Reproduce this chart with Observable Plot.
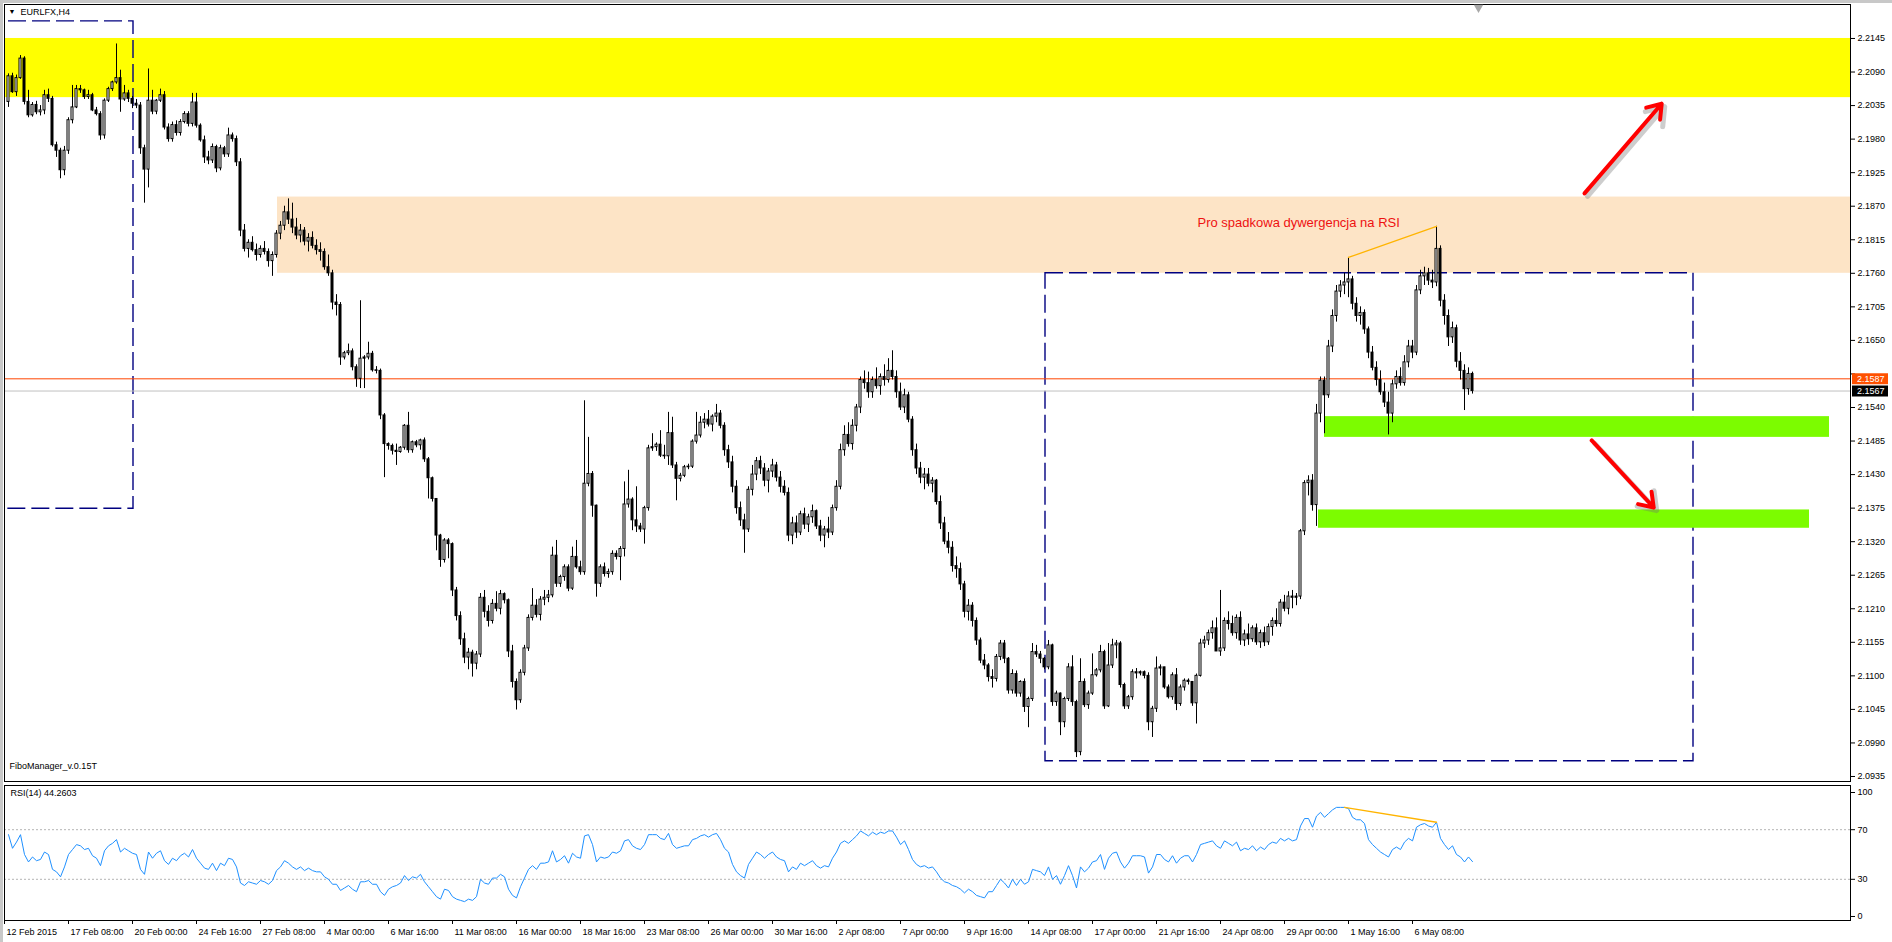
<!DOCTYPE html>
<html><head><meta charset="utf-8">
<script src="https://cdn.jsdelivr.net/npm/d3@7"></script>
<script src="https://cdn.jsdelivr.net/npm/@observablehq/plot@0.6"></script>
<style>
html,body{margin:0;padding:0;background:#fff;}
#wrap{position:relative;width:1892px;height:942px;overflow:hidden;background:#fff;}
#main{position:absolute;left:0;top:0;}
#rsi{position:absolute;left:0;top:782px;}
#topbar{position:absolute;left:0;top:0;width:1892px;height:3px;background:#c8c8c8;}
#leftbar{position:absolute;left:0;top:0;width:3px;height:942px;background:#c8c8c8;}
</style></head><body>
<div id="wrap"><div id="main"></div><div id="rsi"></div><div id="topbar"></div><div id="leftbar"></div></div>
<script>
// ---------- DATA (prices in pips above 2.0000) ----------
const BASE = 2.0, PIP = 0.0001;
const firstOpen = 2041;
const closePips = [
2083,2057,2080,2112,2041,2019,2036,2024,2027,2052,
2046,1970,1961,1929,1961,2011,2032,2062,2060,2049,
2052,2027,2021,1986,2043,2062,2073,2080,2045,2055,
2046,2038,2035,1965,1930,2043,2025,2043,2052,1999,
1980,2003,1990,2008,2021,2005,2040,2002,1978,1950,
1945,1967,1932,1965,1955,1986,1980,1942,1830,1800,
1810,1798,1790,1800,1795,1780,1790,1825,1838,1860,
1848,1835,1822,1830,1812,1818,1805,1798,1795,1770,
1760,1712,1708,1622,1629,1632,1606,1587,1620,1622,
1628,1601,1600,1527,1480,1477,1469,1467,1474,1510,
1470,1483,1478,1486,1455,1424,1390,1330,1290,1322,
1316,1240,1198,1160,1130,1138,1120,1135,1228,1205,
1190,1218,1210,1234,1224,1140,1090,1060,1105,1145,
1195,1215,1200,1225,1228,1232,1297,1251,1262,1278,
1243,1295,1278,1270,1415,1431,1379,1251,1278,1267,
1270,1300,1295,1308,1381,1389,1355,1345,1340,1375,
1473,1475,1479,1461,1460,1498,1445,1423,1428,1442,
1443,1484,1494,1515,1520,1512,1525,1530,1510,1470,
1450,1410,1375,1355,1340,1405,1430,1452,1440,1420,
1435,1445,1425,1410,1400,1330,1350,1335,1365,1348,
1360,1370,1345,1330,1340,1335,1375,1410,1470,1495,
1480,1510,1540,1585,1580,1565,1585,1575,1590,1585,
1600,1590,1565,1540,1560,1520,1470,1440,1425,1430,
1415,1420,1385,1350,1320,1310,1280,1275,1250,1205,
1215,1190,1158,1125,1117,1098,1095,1131,1153,1128,
1076,1103,1071,1090,1049,1062,1139,1135,1128,1114,
1150,1057,1071,1024,1062,1114,1057,975,1090,1052,
1071,1101,1109,1139,1050,1117,1150,1153,1085,1050,
1065,1106,1104,1106,1100,1024,1046,1112,1114,1081,
1065,1101,1054,1081,1092,1090,1055,1100,1153,1158,
1170,1178,1140,1145,1190,1185,1170,1195,1158,1168,
1160,1178,1155,1170,1155,1180,1190,1185,1220,1210,
1230,1228,1230,1337,1416,1420,1380,1530,1584,1560,
1640,1690,1730,1740,1745,1750,1710,1690,1695,1668,
1630,1605,1585,1565,1548,1530,1578,1590,1580,1614,
1640,1630,1732,1755,1760,1748,1745,1800,1715,1690,
1655,1670,1615,1600,1570,1595,1567
];
const highPips = [
2087,2088,2085,2117,2115,2060,2040,2042,2035,2060,
2062,2050,1975,1965,1968,2015,2068,2068,2068,2062,
2060,2055,2032,2025,2046,2065,2075,2136,2093,2068,
2060,2050,2045,2040,1970,2095,2060,2045,2062,2058,
2005,2008,2010,2012,2025,2025,2055,2055,2005,1985,
1960,1972,1970,1970,1968,1998,1990,1985,1948,1840,
1815,1820,1808,1805,1812,1800,1795,1830,1845,1870,
1882,1875,1850,1840,1835,1825,1828,1815,1810,1800,
1790,1765,1725,1712,1632,1644,1636,1610,1715,1625,
1647,1632,1607,1603,1530,1482,1480,1480,1476,1512,
1532,1485,1486,1488,1490,1458,1426,1390,1332,1325,
1325,1318,1245,1205,1170,1145,1142,1140,1235,1240,
1215,1225,1238,1240,1236,1226,1150,1095,1110,1150,
1200,1243,1225,1230,1240,1240,1311,1322,1265,1282,
1282,1311,1322,1288,1551,1491,1435,1380,1282,1285,
1275,1305,1305,1312,1418,1437,1392,1410,1350,1378,
1478,1497,1482,1502,1478,1532,1524,1450,1432,1445,
1447,1487,1532,1525,1530,1535,1528,1545,1535,1515,
1478,1460,1420,1385,1365,1410,1445,1458,1460,1448,
1440,1455,1450,1435,1420,1408,1360,1362,1370,1375,
1365,1380,1372,1355,1345,1360,1380,1420,1480,1510,
1515,1520,1545,1590,1600,1598,1590,1605,1595,1610,
1620,1633,1600,1580,1570,1565,1525,1480,1450,1440,
1440,1425,1422,1395,1360,1335,1320,1295,1285,1255,
1225,1220,1195,1162,1135,1120,1110,1135,1158,1158,
1130,1110,1108,1092,1095,1065,1153,1150,1140,1130,
1158,1152,1075,1072,1065,1120,1133,1060,1128,1095,
1075,1136,1112,1150,1142,1153,1160,1158,1156,1088,
1068,1110,1112,1108,1108,1105,1050,1131,1118,1112,
1085,1105,1112,1085,1095,1095,1085,1103,1160,1165,
1175,1190,1195,1240,1195,1205,1198,1200,1205,1175,
1185,1182,1185,1175,1180,1185,1195,1210,1225,1232,
1238,1240,1235,1340,1420,1428,1430,1545,1590,1590,
1650,1700,1740,1748,1760,1786,1755,1720,1705,1700,
1672,1640,1615,1600,1580,1565,1585,1600,1605,1625,
1650,1650,1740,1765,1770,1768,1765,1837,1805,1725,
1700,1680,1675,1630,1610,1605,1598
];
const lowPips = [
2032,2055,2050,2078,2036,2015,2016,2020,2018,2020,
2040,1967,1950,1915,1920,1955,2005,2030,2055,2045,
2045,2025,2018,1978,1980,2040,2058,2070,2024,2042,
2040,2030,2030,1955,1875,1900,2020,2020,2040,1995,
1975,1975,1985,1985,2005,2000,2000,1998,1975,1940,
1938,1940,1925,1928,1950,1950,1975,1935,1820,1795,
1785,1795,1780,1785,1790,1770,1755,1785,1815,1830,
1840,1825,1815,1810,1805,1795,1800,1790,1780,1765,
1755,1700,1690,1609,1618,1625,1600,1573,1571,1571,
1618,1598,1595,1520,1425,1470,1462,1445,1465,1470,
1465,1465,1474,1470,1450,1390,1385,1305,1278,1285,
1292,1230,1190,1150,1120,1110,1098,1110,1130,1195,
1180,1185,1205,1200,1218,1130,1080,1044,1055,1100,
1140,1190,1195,1190,1215,1220,1228,1245,1245,1255,
1238,1240,1275,1265,1265,1410,1360,1229,1245,1262,
1260,1265,1290,1256,1295,1375,1338,1335,1335,1316,
1370,1468,1468,1458,1455,1445,1440,1387,1418,1425,
1438,1440,1480,1490,1505,1508,1500,1515,1505,1460,
1440,1400,1365,1345,1301,1335,1395,1420,1430,1410,
1400,1425,1418,1400,1395,1320,1315,1325,1330,1340,
1335,1350,1340,1320,1310,1325,1330,1370,1405,1460,
1475,1470,1500,1530,1570,1555,1555,1570,1560,1575,
1580,1585,1555,1535,1530,1515,1460,1430,1415,1405,
1410,1400,1380,1340,1315,1300,1270,1260,1240,1195,
1190,1180,1150,1120,1110,1090,1080,1090,1125,1120,
1070,1070,1065,1065,1040,1015,1058,1130,1120,1110,
1110,1050,1050,1002,1015,1058,1050,966,969,1048,
1045,1068,1098,1105,1045,1048,1112,1128,1080,1045,
1045,1060,1095,1100,1095,1010,999,1040,1100,1078,
1062,1060,1043,1050,1075,1085,1050,1021,1098,1145,
1150,1160,1140,1132,1140,1175,1165,1160,1150,1148,
1150,1155,1150,1145,1148,1150,1165,1180,1180,1205,
1200,1210,1215,1225,1330,1395,1370,1345,1515,1497,
1555,1630,1680,1720,1725,1720,1700,1680,1675,1660,
1620,1600,1575,1560,1540,1495,1515,1570,1575,1575,
1605,1620,1625,1725,1740,1740,1735,1738,1705,1675,
1640,1645,1605,1585,1535,1560,1562
];
const rsiValues = [
66,55,60,66,50,44,48,45,46,52,
50,38,36,32,40,50,54,58,57,54,
55,49,47,41,53,57,59,62,52,55,
53,51,50,38,34,52,47,51,53,45,
42,47,45,49,51,48,54,47,43,39,
38,43,37,43,41,47,46,40,27,25,
28,27,26,29,28,26,29,37,40,45,
43,40,38,40,37,39,37,36,36,32,
30,26,26,21,23,25,22,20,28,28,
29,26,26,20,17,22,24,25,27,33,
29,32,31,34,28,24,20,16,14,22,
21,16,14,13,12,14,13,16,30,27,
26,31,31,34,32,22,17,15,24,31,
38,41,38,43,43,44,53,44,46,49,
43,51,48,47,65,66,58,44,48,47,
48,52,51,53,61,62,57,55,54,58,
66,66,66,63,62,67,58,55,56,57,
57,62,63,65,66,64,66,67,62,55,
52,42,36,33,31,42,47,52,50,47,
50,52,48,46,45,36,40,38,43,41,
43,45,41,39,41,40,47,52,59,61,
59,62,65,69,67,65,68,66,68,67,
69,69,64,58,61,54,46,42,40,41,
39,40,36,31,28,27,25,24,22,19,
22,20,17,16,15,20,20,25,30,27,
23,30,25,30,26,28,38,37,36,33,
40,30,33,26,33,41,33,23,40,36,
39,44,45,50,38,47,51,52,44,39,
43,49,49,49,48,35,40,50,50,46,
44,49,43,47,49,49,44,50,58,59,
60,61,57,55,61,59,57,60,53,55,
54,57,53,56,54,58,60,59,63,61,
63,61,62,73,79,79,72,81,84,80,
83,86,88,88,88,87,80,78,78,75,
62,58,55,52,50,48,54,56,54,60,
63,61,72,74,75,73,72,76,63,58,
54,57,50,48,44,48,44.26
];
const priceTicks = [2.0935,2.0990,2.1045,2.1100,2.1155,2.1210,2.1265,2.1320,2.1375,2.1430,2.1485,2.1540,2.1595,2.1650,2.1705,2.1760,2.1815,2.1870,2.1925,2.1980,2.2035,2.2090,2.2145];
const hiddenPriceLabel = 2.1595; // covered by the current-price boxes in the reference
const rsiTicks = [0, 30, 70, 100];
const rsiLevels = [30, 70];
const timeTickBars = [-1,15,31,47,63,79,95,111,127,143,159,175,191,207,223,239,255,271,287,303,319,335,351];
const timeLabels = ["12 Feb 2015","17 Feb 08:00","20 Feb 00:00","24 Feb 16:00","27 Feb 08:00","4 Mar 00:00","6 Mar 16:00","11 Mar 08:00","16 Mar 00:00","18 Mar 16:00","23 Mar 08:00","26 Mar 00:00","30 Mar 16:00","2 Apr 08:00","7 Apr 00:00","9 Apr 16:00","14 Apr 08:00","17 Apr 00:00","21 Apr 16:00","24 Apr 08:00","29 Apr 00:00","1 May 16:00","6 May 08:00"];
const askPrice = 2.1587, bidPrice = 2.1567;
const zoneYellow = [{x1: -1, x2: 460.5, y1: 2.2048, y2: 2.2145}];
const zonePeach = [{x1: 67.25, x2: 460.5, y1: 2.1760, y2: 2.1885}];
const zoneGreen = [{x1: 329, x2: 455.25, y1: 2.1491, y2: 2.1525}, {x1: 327.5, x2: 450.25, y1: 2.1342, y2: 2.1372}];
const dashBoxes = [{x1: -6, x2: 31.25, y1: 2.1374, y2: 2.2173}, {x1: 259.25, x2: 421.25, y1: 2.0960, y2: 2.1760}];
const divergencePrice = [{x: 335, y: 2.1786}, {x: 357, y: 2.1837}];
const divergenceRsi = [{x: 334, y: 88}, {x: 357, y: 76}];
const arrows = [{x1: 394, y1: 2.1891, x2: 413.3, y2: 2.2038}, {x1: 395.8, y1: 2.1486, x2: 411.3, y2: 2.1376}];
const note = [{x: 297.25, y: 2.1843, text: "Pro spadkowa dywergencja na RSI"}];
const shiftMarker = [367.5];

// ---------- BUILD ----------
const X_MIN = -1, X_MAX = 460.5;
const Y_MIN = 2.09268, Y_MAX = 2.22007;
const bars = closePips.map((c, i) => {
  const o = i ? closePips[i - 1] : firstOpen;
  return {i, open: BASE + o * PIP, close: BASE + c * PIP,
    high: BASE + Math.max(highPips[i], o, c) * PIP,
    low: BASE + Math.min(lowPips[i], o, c) * PIP};
});
const bull = bars.filter(d => d.close >= d.open);
const bear = bars.filter(d => d.close < d.open);
const bullInner = bull.filter(d => (d.close - d.open) * 6099 > 1.6);
const font = {fontFamily: "'Liberation Sans', Arial, sans-serif", fontSize: "9px", color: "#000", background: "transparent", overflow: "visible"};

const main = Plot.plot({
  width: 1892, height: 782,
  marginLeft: 4, marginRight: 42, marginTop: 4, marginBottom: 1,
  style: font,
  x: {domain: [X_MIN, X_MAX], axis: null},
  y: {domain: [Y_MIN, Y_MAX]},
  marks: [
    Plot.rect(zoneYellow, {x1: "x1", x2: "x2", y1: "y1", y2: "y2", fill: "#ffff00"}),
    Plot.rect(zonePeach, {x1: "x1", x2: "x2", y1: "y1", y2: "y2", fill: "#fde4c6"}),
    Plot.rect(dashBoxes, {x1: "x1", x2: "x2", y1: "y1", y2: "y2", fill: "none", stroke: "#000080", strokeWidth: 1.4, strokeDasharray: "18,6", clip: true}),
    Plot.rect(zoneGreen, {x1: "x1", x2: "x2", y1: "y1", y2: "y2", fill: "#7cfc00"}),
    Plot.ruleY([bidPrice], {stroke: "#c0c0c0"}),
    Plot.ruleY([askPrice], {stroke: "#ff4500"}),
    Plot.ruleX(bars, {x: "i", y1: "low", y2: "high", stroke: "#000", strokeWidth: 1}),
    Plot.rect(bear, {x1: d => d.i - 0.25, x2: d => d.i + 0.5, y1: "open", y2: "close", fill: "#000", insetTop: -0.5, insetBottom: -0.5, dx: -0.5}),
    Plot.rect(bull, {x1: d => d.i - 0.25, x2: d => d.i + 0.5, y1: "open", y2: "close", fill: "#000", insetTop: -0.5, insetBottom: -0.5, dx: -0.5}),
    Plot.rect(bullInner, {x1: d => d.i, x2: d => d.i + 0.25, y1: "open", y2: "close", fill: "#fff", insetTop: 0.5, insetBottom: 0.5, dx: -0.5}),
    Plot.line(divergencePrice, {x: "x", y: "y", stroke: "#ffb400", strokeWidth: 1.3}),
    Plot.arrow(arrows, {x1: "x1", y1: "y1", x2: "x2", y2: "y2", stroke: "#707070", strokeOpacity: 0.35, strokeWidth: 5, headLength: 6, headAngle: 70, dx: 3, dy: 3}),
    Plot.arrow(arrows, {x1: "x1", y1: "y1", x2: "x2", y2: "y2", stroke: "#ff0000", strokeWidth: 4, headLength: 6, headAngle: 70}),
    Plot.text(note, {x: "x", y: "y", text: "text", fill: "#ee1111", fontSize: 13, textAnchor: "start"}),
    Plot.frame({stroke: "#000"}),
    Plot.axisY({anchor: "right", ticks: priceTicks, tickFormat: d => d === hiddenPriceLabel ? "" : d.toFixed(4), tickSize: 4, tickPadding: 3, fontSize: 9, label: null}),
    Plot.ruleY([askPrice], {x1: X_MAX + 0.5, x2: X_MAX + 9.5, stroke: "#ff5000", strokeWidth: 11}),
    Plot.text([askPrice], {x: X_MAX + 1.6, y: d => d, text: d => d.toFixed(4), fill: "#fff", textAnchor: "start", fontSize: 9}),
    Plot.ruleY([bidPrice], {x1: X_MAX + 0.5, x2: X_MAX + 9.5, stroke: "#000", strokeWidth: 11}),
    Plot.text([bidPrice], {x: X_MAX + 1.6, y: d => d, text: d => d.toFixed(4), fill: "#fff", textAnchor: "start", fontSize: 9}),
    Plot.dot(shiftMarker, {x: d => d, y: Y_MAX, symbol: "triangle", rotate: 180, r: 3.5, fill: "#a8a8a8", stroke: "none", dy: 3}),
    Plot.text(["\u25BC"], {frameAnchor: "top-left", text: d => d, dx: 4, dy: 5, fontSize: 7}),
    Plot.text(["EURLFX,H4"], {frameAnchor: "top-left", text: d => d, dx: 16, dy: 4, fontSize: 9}),
    Plot.text(["FiboManager_v.0.15T"], {frameAnchor: "bottom-left", text: d => d, dx: 5, dy: -13, fontSize: 9})
  ]
});
document.getElementById("main").appendChild(main);

const rsi = Plot.plot({
  width: 1892, height: 160,
  marginLeft: 4, marginRight: 42, marginTop: 3, marginBottom: 22,
  style: font,
  x: {domain: [X_MIN, X_MAX]},
  y: {domain: [-3.23, 105.65]},
  marks: [
    Plot.ruleY(rsiLevels, {stroke: "#b4b4b4", strokeDasharray: "2,2"}),
    Plot.line(rsiValues, {x: (d, i) => i, y: d => d, stroke: "#1e90ff", strokeWidth: 1}),
    Plot.line(divergenceRsi, {x: "x", y: "y", stroke: "#ffb400", strokeWidth: 1.3}),
    Plot.frame({stroke: "#000"}),
    Plot.axisY({anchor: "right", ticks: rsiTicks, tickFormat: d => String(d), tickSize: 4, tickPadding: 3, fontSize: 9, label: null}),
    Plot.axisX({ticks: timeTickBars, tickSize: 4, tickFormat: () => "", label: null}),
    Plot.text(timeLabels, {x: (d, i) => timeTickBars[i], frameAnchor: "bottom", lineAnchor: "top", textAnchor: "start", dy: 8, dx: 2, text: d => d, fontSize: 9}),
    Plot.text(["RSI(14) 44.2603"], {frameAnchor: "top-left", text: d => d, dx: 6, dy: 4, fontSize: 9})
  ]
});
document.getElementById("rsi").appendChild(rsi);
</script>
</body></html>
